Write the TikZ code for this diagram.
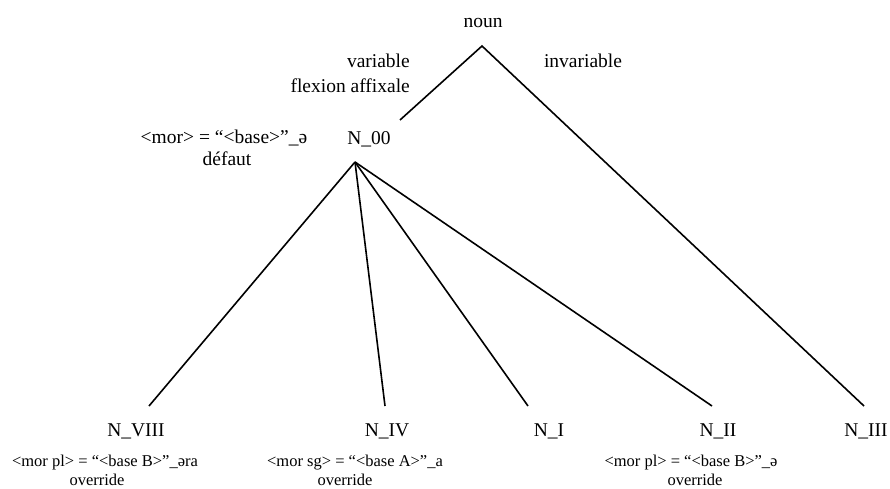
\documentclass[tikz,border=0pt]{standalone}
\usepackage{fontspec}
\setmainfont{Liberation Serif}
\begin{document}
\begin{tikzpicture}[x=1pt,y=-1pt,
  lbl/.style={inner sep=0pt,anchor=base,font=\fontsize{19.5}{22}\selectfont},
  note/.style={inner sep=0pt,anchor=base,font=\fontsize{16.5}{19}\selectfont},
  edge/.style={line width=1.6pt}]
\useasboundingbox (0,0) rectangle (890,488);
% top
\node[lbl] (noun) at (483,27) {noun};
\coordinate (top) at (482,46);
\node[lbl,anchor=base east] (var) at (410,67) {variable};
\node[lbl,anchor=base east] (flex) at (410,92) {flexion affixale};
\node[lbl] (inv) at (583,67) {invariable};
\coordinate (vend) at (400,120);
% N_00
\node[lbl] (n00) at (369,144) {N\_00};
\coordinate (mid) at (355,162);
\node[lbl] (mor) at (224,143) {<mor> = “<base>”\_ə};
\node[lbl] (def) at (227,165) {défaut};
% bottom nodes
\node[lbl] (n8) at (136,436) {N\_VIII};
\node[lbl] (n4) at (387,436) {N\_IV};
\node[lbl] (n1) at (549,436) {N\_I};
\node[lbl] (n2) at (718,436) {N\_II};
\node[lbl] (n3) at (866,436) {N\_III};
\coordinate (e8) at (149,406);
\coordinate (e4) at (385,406);
\coordinate (e1) at (528,406);
\coordinate (e2) at (712,406);
\coordinate (e3) at (864,406);
% annotations
\node[note] (a8) at (105,466) {<mor pl> = “<base B>”\_əra};
\node[note] (o8) at (97,485) {override};
\node[note] (a4) at (355,466) {<mor sg> = “<base A>”\_a};
\node[note] (o4) at (345,485) {override};
\node[note] (a2) at (691,466) {<mor pl> = “<base B>”\_ə};
\node[note] (o2) at (695,485) {override};
% edges
\draw[edge] (vend) -- (top) -- (e3);
\draw[edge] (mid) -- (e8);
\draw[edge] (mid) -- (e4);
\draw[edge] (mid) -- (e1);
\draw[edge] (mid) -- (e2);
\end{tikzpicture}
\end{document}
